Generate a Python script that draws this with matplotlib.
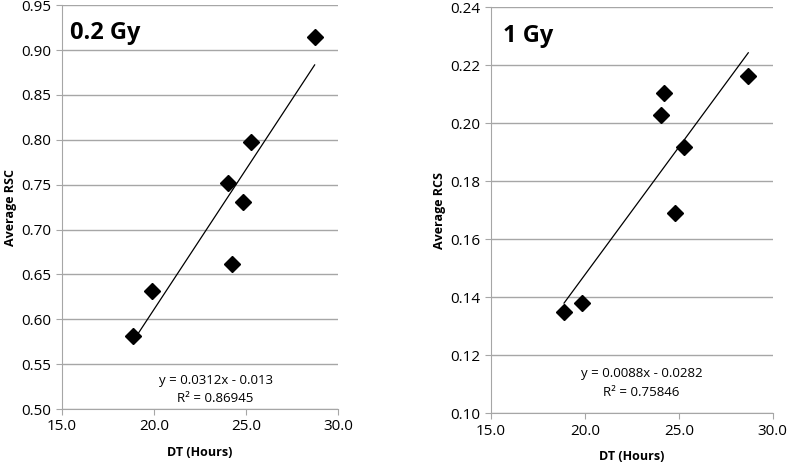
import matplotlib.pyplot as plt
import numpy as np

plt.rcParams['font.family'] = ['Open Sans', 'DejaVu Sans']

# doubling time (hours)
dt_02 = [18.87, 19.87, 24.0, 24.24, 24.82, 25.25, 28.73]
rsc_02 = [0.581, 0.632, 0.752, 0.662, 0.731, 0.798, 0.914]
fit_02 = (0.0312, -0.013)
eq_02 = ['y = 0.0312x - 0.013', 'R² = 0.86945']

dt_1 = [18.89, 19.85, 24.05, 24.23, 24.8, 25.26, 28.7]
rcs_1 = [0.135, 0.138, 0.203, 0.2106, 0.169, 0.192, 0.2164]
fit_1 = (0.0088, -0.0282)
eq_1 = ['y = 0.0088x - 0.0282', 'R² = 0.75846']

x_ticks = [15.0, 20.0, 25.0, 30.0]
y_ticks_02 = np.arange(0.50, 0.951, 0.05)
y_ticks_1 = np.arange(0.10, 0.2401, 0.02)


def panel(ax, x, y, fit, eq, ylabel, title, yticks, eq_pos, title_x):
    ax.grid(axis='y', color='#a6a6a6', linewidth=1)
    ax.set_axisbelow(True)
    ax.plot(x, y, 'D', color='black', markersize=8, zorder=3)
    xs = np.array([min(x), max(x)])
    ax.plot(xs, fit[0] * xs + fit[1], color='black', linewidth=0.9, zorder=2)
    ax.set_xlim(15, 30)
    ax.set_ylim(yticks[0], yticks[-1])
    ax.set_xticks(x_ticks)
    ax.set_xticklabels([f'{v:.1f}' for v in x_ticks], fontsize=11)
    ax.set_yticks(yticks)
    ax.set_yticklabels([f'{v:.2f}' for v in yticks], fontsize=11)
    ax.set_xlabel('DT (Hours)', fontsize=9, fontweight='bold', labelpad=8)
    ax.set_ylabel(ylabel, fontsize=9, fontweight='bold', labelpad=3)
    for s in ['top', 'right']:
        ax.spines[s].set_visible(False)
    for s in ['left', 'bottom']:
        ax.spines[s].set_color('#a6a6a6')
    ax.tick_params(color='#a6a6a6', length=4, direction='out')
    ax.text(title_x, 0.93, title, transform=ax.transAxes, fontsize=17,
            fontweight='bold', va='center', ha='left')
    ax.text(eq_pos[0], eq_pos[1], '\n'.join(eq), fontsize=9.5, ha='center',
            va='center', linespacing=1.55)


fig = plt.figure(figsize=(7.87, 4.66), dpi=100)
ax1 = fig.add_axes([0.0788, 0.1223, 0.3507, 0.8667])
ax2 = fig.add_axes([0.6239, 0.113, 0.3579, 0.871])

panel(ax1, dt_02, rsc_02, fit_02, eq_02, 'Average RSC', '0.2 Gy',
      y_ticks_02, (23.35, 0.522), 0.03)
panel(ax2, dt_1, rcs_1, fit_1, eq_1, 'Average RCS', '1 Gy',
      y_ticks_1, (23.02, 0.1104), 0.043)

fig.savefig('out.png', dpi=100)
